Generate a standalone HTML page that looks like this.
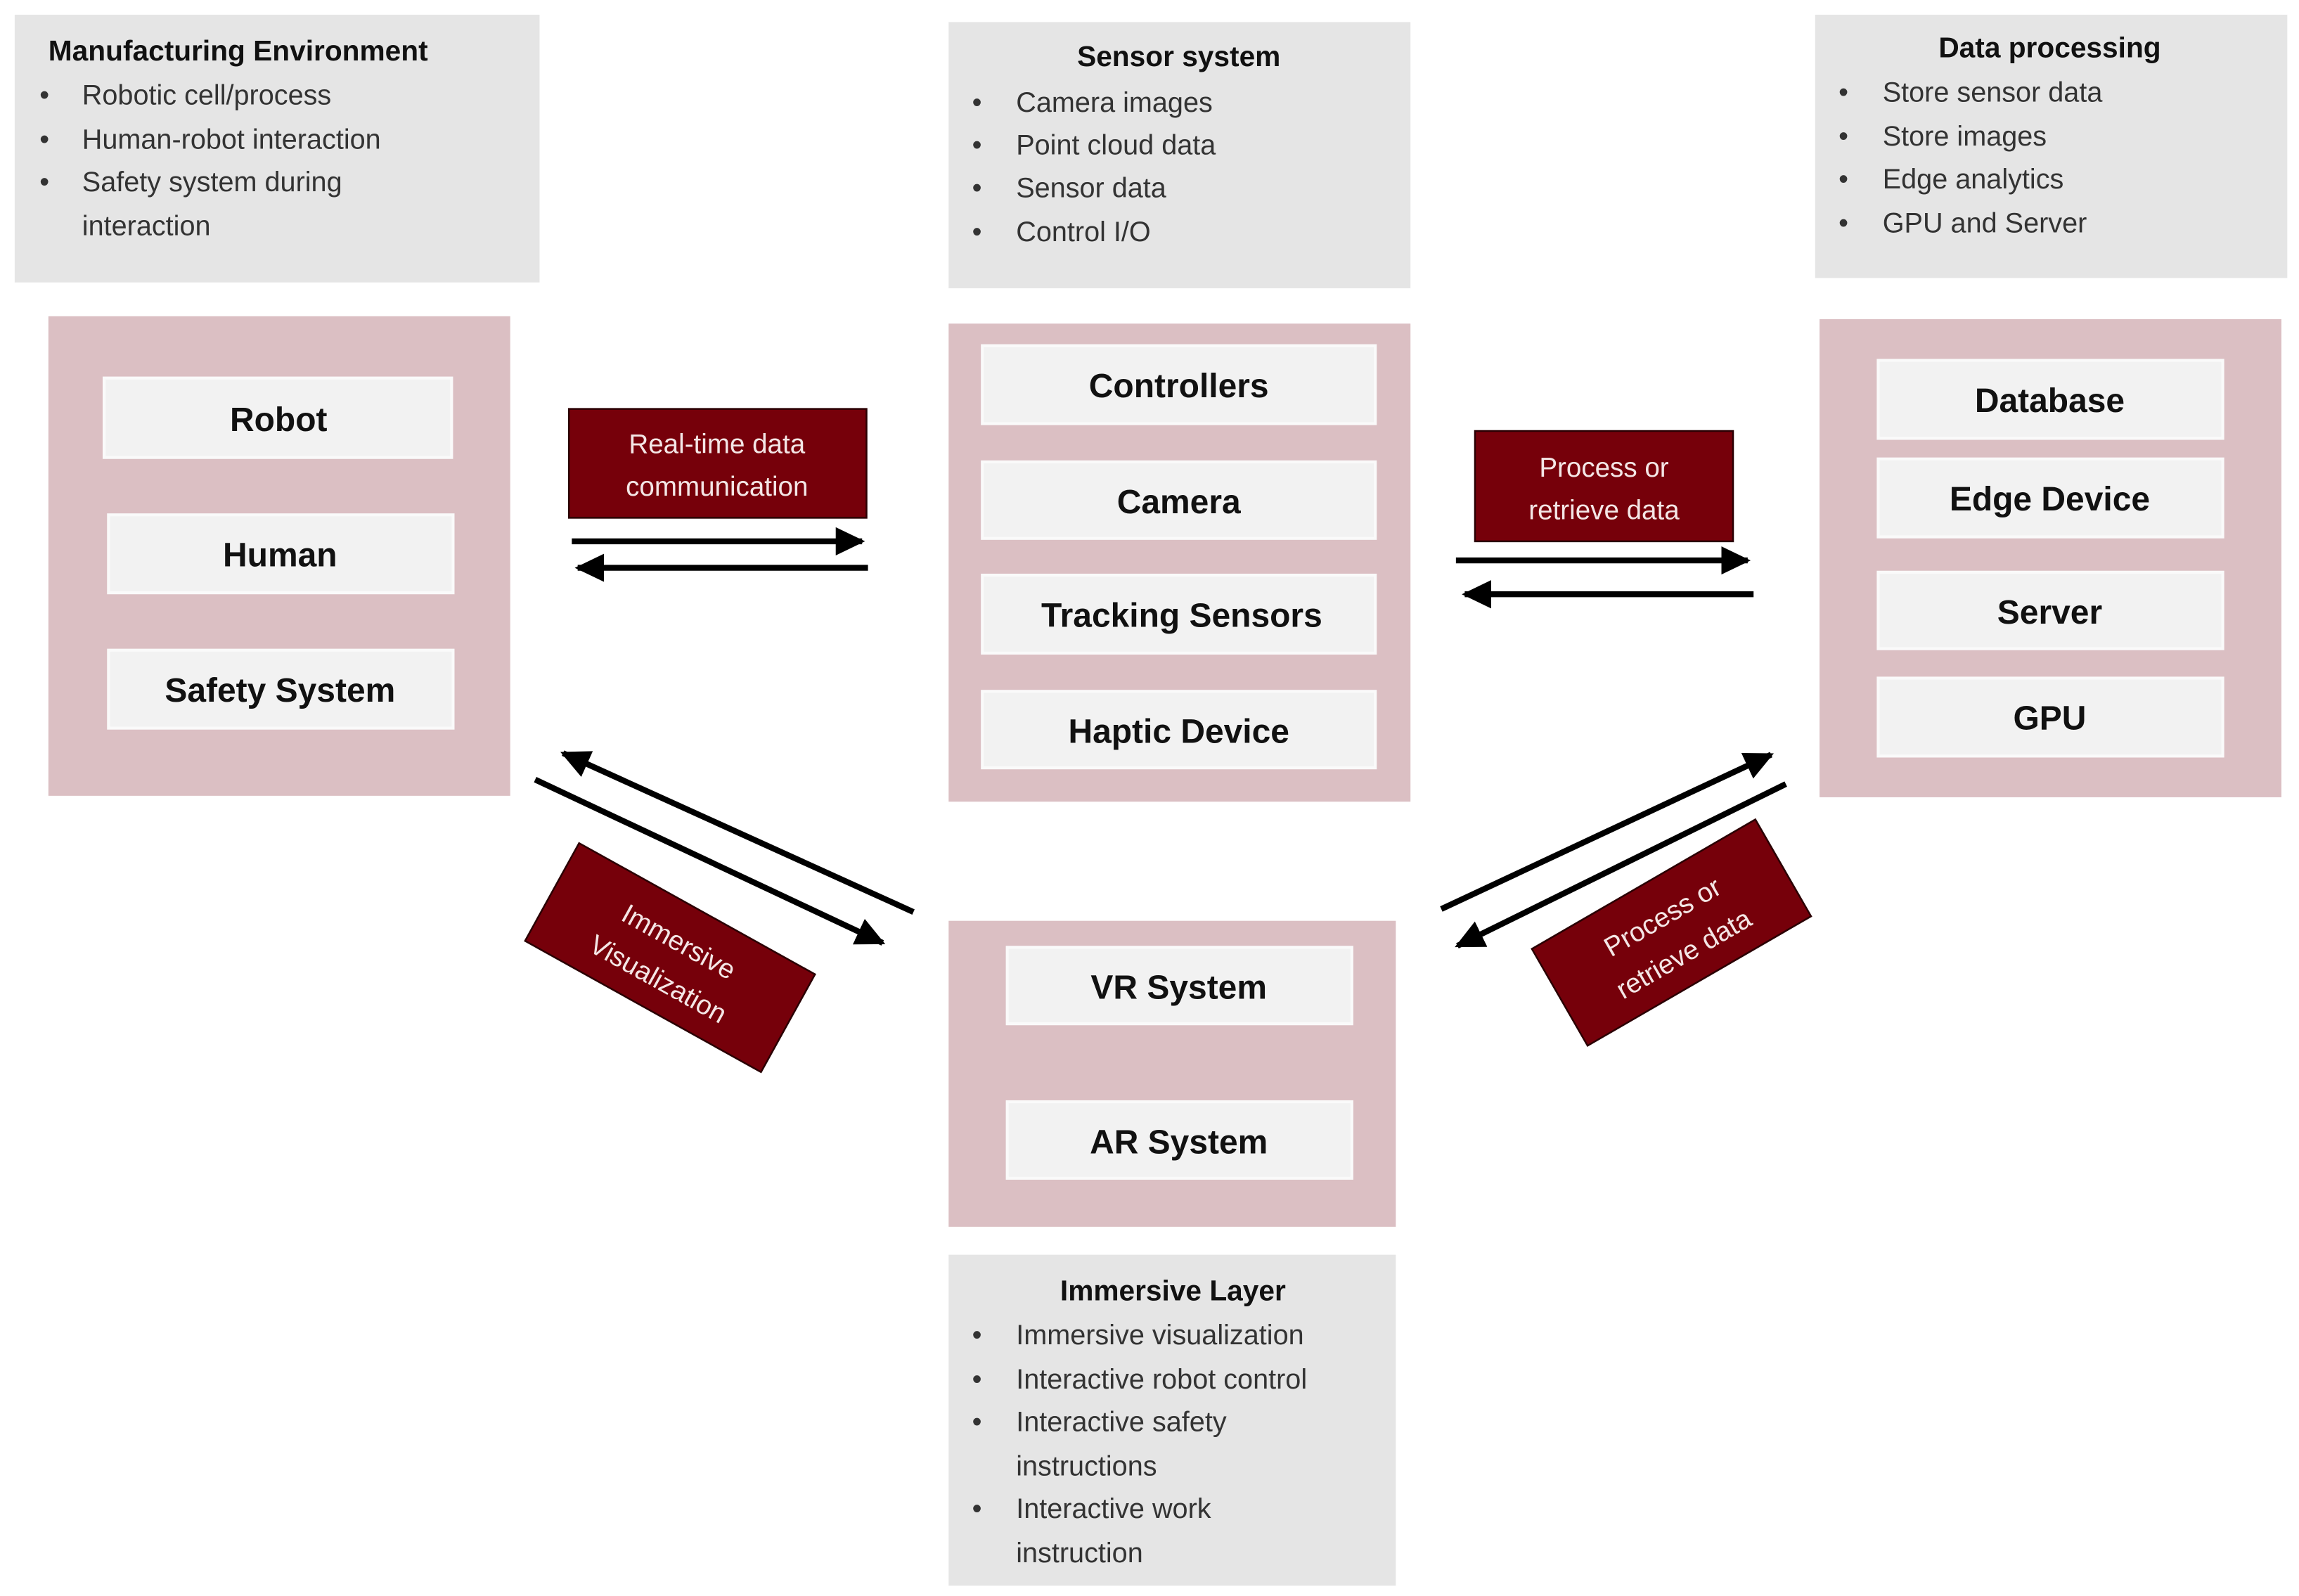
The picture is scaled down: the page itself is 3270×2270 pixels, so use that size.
<!DOCTYPE html>
<html><head><meta charset="utf-8"><style>
html,body{margin:0;padding:0;background:#fff;}
svg{display:block;}
text{font-family:"Liberation Sans",sans-serif;}
.g{fill:#e5e5e5}
.p{fill:#dbbfc3}
.w{fill:#f2f2f2;stroke:#fafafa;stroke-width:2}
.wt{font-weight:bold;font-size:23px;fill:#111;text-anchor:middle}
.h{font-weight:bold;font-size:19.5px;fill:#111}
.l{font-size:19px;fill:#333}
.r{fill:#76000a;stroke:#2a0003;stroke-width:1.2}
.rt{font-size:18.5px;fill:#f4e6e6;text-anchor:middle}
.a{stroke:#000;stroke-width:4;fill:none}
</style></head><body>
<svg width="3270" height="2270" viewBox="0 0 1568 1085" preserveAspectRatio="none" xmlns="http://www.w3.org/2000/svg">
<defs><marker id="m" markerWidth="6" markerHeight="6" refX="4.5" refY="3" orient="auto" markerUnits="strokeWidth"><path d="M0,0.6 L5,3 L0,5.4 Z" fill="#000"/></marker></defs>

<rect class="g" x="10" y="10" width="358" height="182"/>
<text class="h" x="33" y="41">Manufacturing Environment</text>
<g class="l"><text x="27" y="71">•</text><text x="56" y="71">Robotic cell/process</text>
<text x="27" y="101">•</text><text x="56" y="101">Human-robot interaction</text>
<text x="27" y="130">•</text><text x="56" y="130">Safety system during</text>
<text x="56" y="160">interaction</text></g>

<rect class="g" x="647" y="15" width="315" height="181"/>
<text class="h" x="804" y="45" text-anchor="middle">Sensor system</text>
<g class="l"><text x="663" y="76">•</text><text x="693" y="76">Camera images</text>
<text x="663" y="105">•</text><text x="693" y="105">Point cloud data</text>
<text x="663" y="134">•</text><text x="693" y="134">Sensor data</text>
<text x="663" y="164">•</text><text x="693" y="164">Control I/O</text></g>

<rect class="g" x="1238" y="10" width="322" height="179"/>
<text class="h" x="1398" y="39" text-anchor="middle">Data processing</text>
<g class="l"><text x="1254" y="69">•</text><text x="1284" y="69">Store sensor data</text>
<text x="1254" y="99">•</text><text x="1284" y="99">Store images</text>
<text x="1254" y="128">•</text><text x="1284" y="128">Edge analytics</text>
<text x="1254" y="158">•</text><text x="1284" y="158">GPU and Server</text></g>

<rect class="g" x="647" y="853" width="305" height="225"/>
<text class="h" x="800" y="884" text-anchor="middle">Immersive Layer</text>
<g class="l"><text x="663" y="914">•</text><text x="693" y="914">Immersive visualization</text>
<text x="663" y="944">•</text><text x="693" y="944">Interactive robot control</text>
<text x="663" y="973">•</text><text x="693" y="973">Interactive safety</text>
<text x="693" y="1003">instructions</text>
<text x="663" y="1032">•</text><text x="693" y="1032">Interactive work</text>
<text x="693" y="1062">instruction</text></g>

<rect class="p" x="33" y="215" width="315" height="326"/>
<rect class="p" x="647" y="220" width="315" height="325"/>
<rect class="p" x="1241" y="217" width="315" height="325"/>
<rect class="p" x="647" y="626" width="305" height="208"/>

<rect class="w" x="71" y="257" width="237" height="54"/><text class="wt" x="190" y="293">Robot</text>
<rect class="w" x="74" y="350" width="235" height="53"/><text class="wt" x="191" y="385">Human</text>
<rect class="w" x="74" y="442" width="235" height="53"/><text class="wt" x="191" y="477">Safety System</text>

<rect class="w" x="670" y="235" width="268" height="53"/><text class="wt" x="804" y="270">Controllers</text>
<rect class="w" x="670" y="314" width="268" height="52"/><text class="wt" x="804" y="349">Camera</text>
<rect class="w" x="670" y="391" width="268" height="53"/><text class="wt" x="806" y="426">Tracking Sensors</text>
<rect class="w" x="670" y="470" width="268" height="52"/><text class="wt" x="804" y="505">Haptic Device</text>

<rect class="w" x="1281" y="245" width="235" height="53"/><text class="wt" x="1398" y="280">Database</text>
<rect class="w" x="1281" y="312" width="235" height="53"/><text class="wt" x="1398" y="347">Edge Device</text>
<rect class="w" x="1281" y="389" width="235" height="52"/><text class="wt" x="1398" y="424">Server</text>
<rect class="w" x="1281" y="461" width="235" height="53"/><text class="wt" x="1398" y="496">GPU</text>

<rect class="w" x="687" y="644" width="235" height="52"/><text class="wt" x="804" y="679">VR System</text>
<rect class="w" x="687" y="749" width="235" height="52"/><text class="wt" x="804" y="784">AR System</text>

<rect class="r" x="388" y="278" width="203" height="74"/>
<text class="rt" x="489" y="308">Real-time data</text><text class="rt" x="489" y="337">communication</text>
<rect class="r" x="1006" y="293" width="176" height="75"/>
<text class="rt" x="1094" y="324">Process or</text><text class="rt" x="1094" y="353">retrieve data</text>

<g transform="translate(457,651) rotate(29)">
<rect class="r" x="-92" y="-38" width="184" height="76"/>
<text class="rt" x="0" y="-6">Immersive</text><text class="rt" x="0" y="23">Visualization</text></g>
<g transform="translate(1140,634) rotate(-30)">
<rect class="r" x="-88" y="-38" width="176" height="76"/>
<text class="rt" x="0" y="-6">Process or</text><text class="rt" x="0" y="23">retrieve data</text></g>

<line class="a" x1="390" y1="368" x2="588" y2="368" marker-end="url(#m)"/>
<line class="a" x1="592" y1="386" x2="394" y2="386" marker-end="url(#m)"/>
<line class="a" x1="993" y1="381" x2="1192" y2="381" marker-end="url(#m)"/>
<line class="a" x1="1196" y1="404" x2="999" y2="404" marker-end="url(#m)"/>
<line class="a" x1="623" y1="620" x2="384" y2="512" marker-end="url(#m)"/>
<line class="a" x1="365" y1="530" x2="602" y2="641" marker-end="url(#m)"/>
<line class="a" x1="983" y1="618" x2="1208" y2="513" marker-end="url(#m)"/>
<line class="a" x1="1218" y1="533" x2="994" y2="643" marker-end="url(#m)"/>
</svg>
</body></html>
